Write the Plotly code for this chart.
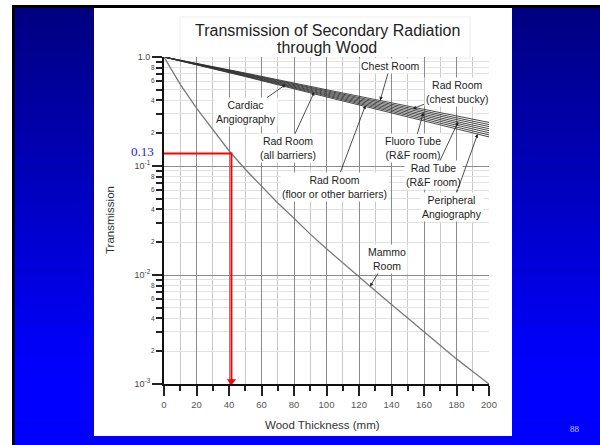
import numpy as np
import plotly.graph_objects as go

# ---------------- data ----------------
thickness = [0, 25, 50, 100, 150, 200]
chest_room = [1.0, 0.847, 0.713, 0.501, 0.355, 0.251]
rad_room_chest_bucky = [1.0, 0.843, 0.705, 0.490, 0.343, 0.240]
fluoro_tube = [1.0, 0.838, 0.698, 0.480, 0.332, 0.230]
rad_tube = [1.0, 0.834, 0.690, 0.469, 0.322, 0.220]
cardiac_angio = [1.0, 0.830, 0.683, 0.459, 0.311, 0.211]
rad_room_all = [1.0, 0.825, 0.676, 0.449, 0.301, 0.202]
rad_room_floor = [1.0, 0.821, 0.668, 0.440, 0.291, 0.193]
peripheral_angio = [1.0, 0.817, 0.661, 0.430, 0.282, 0.185]

mammo_thickness = [0, 10, 20, 30, 40, 50, 60, 70, 80, 90, 100,
                   110, 120, 130, 140, 150, 160, 170, 180, 190, 200]
mammo_room = [1.0, 0.562, 0.339, 0.214, 0.138, 0.0933, 0.0646, 0.0457, 0.0331,
              0.0237, 0.0174, 0.0129, 0.00955, 0.00716, 0.00537, 0.00403,
              0.00302, 0.00226, 0.0017, 0.0013, 0.001]

marker_thickness = 41.5
marker_value = 0.13

x_ticks = [0, 20, 40, 60, 80, 100, 120, 140, 160, 180, 200]
y_decades = [0.001, 0.01, 0.1, 1.0]
y_decade_labels = ["10<sup>-3</sup>", "10<sup>-2</sup>", "10<sup>-1</sup>", "1.0"]
y_minor_digits = [2, 4, 6, 8]

title_lines = ["Transmission of Secondary Radiation", "through Wood"]

# ---------------- geometry helpers ----------------
L, R, T, B = 164, 489, 57, 384
W, H = 600, 445


def pxx(px):
    return (px - L) / (R - L)


def pxy(py):
    return (B - py) / (B - T)


FONT = "Liberation Sans, Arial, sans-serif"
fig = go.Figure()

bundle = [
    ("Chest Room", chest_room),
    ("Rad Room (chest bucky)", rad_room_chest_bucky),
    ("Fluoro Tube (R&F room)", fluoro_tube),
    ("Rad Tube (R&F room)", rad_tube),
    ("Cardiac Angiography", cardiac_angio),
    ("Rad Room (all barriers)", rad_room_all),
    ("Rad Room (floor or other barriers)", rad_room_floor),
    ("Peripheral Angiography", peripheral_angio),
]
for name, vals in bundle:
    fig.add_trace(go.Scatter(x=thickness, y=vals, mode="lines", name=name,
                             line=dict(color="#333333", width=0.9), showlegend=False))

fig.add_trace(go.Scatter(x=mammo_thickness, y=mammo_room, mode="lines", name="Mammo Room",
                         line=dict(color="#7a7a7a", width=1.3), showlegend=False))

# red reading path
fig.add_trace(go.Scatter(x=[0, marker_thickness, marker_thickness],
                         y=[marker_value, marker_value, y_decades[0] * 1.06],
                         mode="lines", line=dict(color="#ff0000", width=2),
                         showlegend=False, cliponaxis=False))
fig.add_trace(go.Scatter(x=[marker_thickness], y=[y_decades[0] * 1.06], mode="markers",
                         marker=dict(symbol="triangle-down", size=8, color="#ff0000"),
                         showlegend=False, cliponaxis=False))

# empty trace for the minor-label axis
fig.add_trace(go.Scatter(x=[None], y=[None], yaxis="y2", showlegend=False))

annotations = []


def tip(xs, vals, x):
    return float(np.interp(x, xs, np.log10(vals)))


LABEL_FONT = dict(family=FONT, size=10.5, color="#222")
labels = [
    ("Chest Room", chest_room, 133, 139.1, -0.083),
    ("Rad Room<br>(chest bucky)", rad_room_chest_bucky, 153, 180.0, -0.321),
    ("Cardiac<br>Angiography", cardiac_angio, 75, 50.5, -0.505),
    ("Rad Room<br>(all barriers)", rad_room_all, 92.5, 76.5, -0.838),
    ("Rad Room<br>(floor or other barriers)", rad_room_floor, 124, 105.2, -1.19),
    ("Fluoro Tube<br>(R&F room)", fluoro_tube, 159.6, 153.4, -0.838),
    ("Rad Tube<br>(R&F room)", rad_tube, 181, 165.7, -1.083),
    ("Peripheral<br>Angiography", peripheral_angio, 193, 177.0, -1.373),
]
for text, vals, tx, lx, ly in labels:
    annotations.append(dict(
        x=tx, y=tip(thickness, vals, tx), xref="x", yref="y",
        ax=lx, ay=ly, axref="x", ayref="y", text=text, showarrow=True,
        arrowhead=2, arrowsize=0.9, arrowwidth=0.8, arrowcolor="#222",
        font=LABEL_FONT, bgcolor="white", borderpad=1, standoff=0))
annotations.append(dict(
    x=126.8, y=tip(mammo_thickness, mammo_room, 126.8), xref="x", yref="y",
    ax=137.0, ay=-1.853, axref="x", ayref="y", text="Mammo<br>Room", showarrow=True,
    arrowhead=2, arrowsize=0.9, arrowwidth=0.8, arrowcolor="#222",
    font=LABEL_FONT, bgcolor="white", borderpad=1, standoff=0))

annotations.append(dict(x=pxx(156), y=np.log10(marker_value), xref="paper", yref="y",
                        xanchor="right", yanchor="middle", yshift=2,
                        text=f"{marker_value:.2f}", showarrow=False,
                        font=dict(family="Liberation Serif, Times New Roman, serif", size=13,
                                  color="#1a1aff")))

# title (two lines, tight spacing)
for line_text, py in zip(title_lines, [30, 47.5]):
    annotations.append(dict(x=pxx(327), y=pxy(py), xref="paper", yref="paper",
                            text=line_text, showarrow=False, xanchor="center",
                            yanchor="middle", font=dict(family=FONT, size=16, color="#222")))
# axis titles
annotations.append(dict(x=pxx(322), y=pxy(425), xref="paper", yref="paper",
                        xanchor="center", yanchor="middle",
                        text="Wood Thickness (mm)", showarrow=False,
                        font=dict(family=FONT, size=11.5, color="#333")))
annotations.append(dict(x=pxx(110), y=pxy(220), xref="paper", yref="paper",
                        xanchor="center", yanchor="middle",
                        text="Transmission", textangle=-90, showarrow=False,
                        font=dict(family=FONT, size=11.5, color="#333")))
# slide number
annotations.append(dict(x=pxx(575), y=pxy(429), xref="paper", yref="paper",
                        xanchor="center", yanchor="middle",
                        text="88", showarrow=False,
                        font=dict(family="Liberation Serif, Times New Roman, serif", size=9,
                                  color="#c8c8ff")))

# ---------------- background shapes ----------------
shapes = []
shapes.append(dict(type="rect", xref="paper", yref="paper", x0=pxx(12), x1=pxx(610),
                   y0=pxy(455), y1=pxy(5), fillcolor="black", line=dict(width=0), layer="below"))
N = 60
top, bot = 8, 445
for i in range(N):
    y0 = top + i * (bot - top) / N
    y1 = y0 + (bot - top) / N + 0.6
    c = min(1.0, ((y0 + y1) / 2 - top) / (370 - top))
    b = int(round(128 + 127 * c))
    shapes.append(dict(type="rect", xref="paper", yref="paper", x0=pxx(15), x1=pxx(610),
                       y0=pxy(min(y1, 455)), y1=pxy(y0), fillcolor=f"rgb(0,0,{b})",
                       line=dict(width=0), layer="below"))
shapes.append(dict(type="rect", xref="paper", yref="paper", x0=pxx(94), x1=pxx(512),
                   y0=pxy(436), y1=pxy(8), fillcolor="white", line=dict(width=0), layer="below"))
# faint title frame
shapes.append(dict(type="rect", xref="paper", yref="paper", x0=pxx(180), x1=pxx(470),
                   y0=pxy(58), y1=pxy(17), fillcolor="rgba(0,0,0,0)",
                   line=dict(width=1, color="#eeeeee"), layer="below"))

minor_vals = [d * m for d in y_decades[:-1] for m in range(2, 10)]
minor_label_vals = [d * m for d in y_decades[:-1] for m in y_minor_digits]
minor_label_text = [str(m) for d in y_decades[:-1] for m in y_minor_digits]

fig.update_layout(
    width=W, height=H,
    margin=dict(l=L, r=W - R, t=T, b=H - B),
    paper_bgcolor="white", plot_bgcolor="white",
    showlegend=False,
    font=dict(family=FONT, color="#444"),
    xaxis=dict(range=[0, 200], tickvals=x_ticks, ticks="outside", ticklen=10, tickwidth=1.5,
               tickcolor="#222", showline=True, linecolor="#111", linewidth=2,
               showgrid=True, gridcolor="#8a8a8a", gridwidth=1.2, zeroline=False,
               tickfont=dict(size=9.5, color="#555"), ticklabelstandoff=1,
               minor=dict(tickvals=[10, 30, 50, 70, 90, 110, 130, 150, 170, 190], ticks="outside",
                          ticklen=5, tickwidth=1.5, tickcolor="#222", showgrid=True,
                          gridcolor="#c8c8c8", gridwidth=1)),
    yaxis=dict(type="log", range=[-3, 0], tickvals=y_decades, ticktext=y_decade_labels,
               ticks="outside", ticklen=10, tickwidth=1.5, tickcolor="#222",
               showline=True, linecolor="#111", linewidth=2, showgrid=True,
               gridcolor="#8a8a8a", gridwidth=1.2, zeroline=False,
               tickfont=dict(size=9, color="#444"),
               minor=dict(tickvals=minor_vals, ticks="outside", ticklen=6, tickwidth=1.5,
                          tickcolor="#222", showgrid=True, gridcolor="#e2e2e2", gridwidth=1)),
    yaxis2=dict(type="log", range=[-3, 0], overlaying="y", side="left", anchor="x",
                tickvals=minor_label_vals, ticktext=minor_label_text, ticks="outside",
                ticklen=6, tickwidth=1.5, tickcolor="#222", showgrid=False, showline=False,
                zeroline=False, tickfont=dict(size=6.5, color="#444"), ticklabelstandoff=1),
    annotations=annotations,
    shapes=shapes,
)

fig.write_html("out.html", config={"displayModeBar": False},
               post_script="document.body.style.margin='0';document.body.style.overflow='hidden';")
